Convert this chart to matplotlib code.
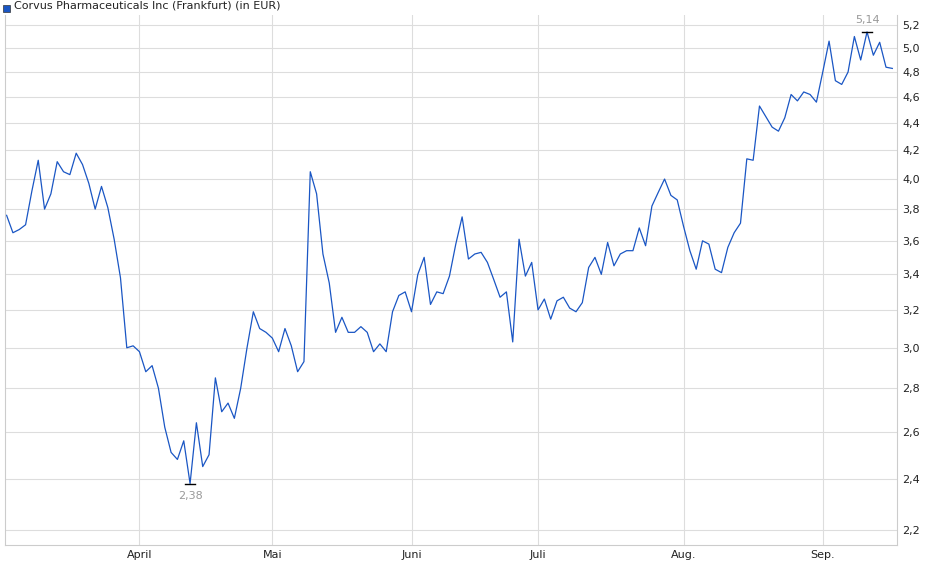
import matplotlib
matplotlib.use("Agg")
import matplotlib.pyplot as plt
import matplotlib.ticker as mticker
import numpy as np
import pandas as pd

values = [3.76,3.65,3.67,3.70,3.92,4.13,3.80,3.90,4.12,4.05,4.03,4.18,4.10,3.97,3.80,3.95,3.81,3.61,3.38,3.00,
          3.01,2.98,2.88,2.91,2.80,2.62,2.51,2.48,2.56,2.38,2.64,2.45,2.50,2.85,2.69,2.73,2.66,2.80,3.00,3.19,
          3.10,3.08,3.05,2.98,3.10,3.01,2.88,2.93,4.05,3.90,
          3.52,3.35,3.08,3.16,3.08,3.08,3.11,3.08,2.98,3.02,2.98,3.19,3.28,3.30,3.19,3.40,3.50,3.23,3.30,3.29,
          3.39,3.58,3.75,3.49,3.52,3.53,3.47,3.37,3.27,3.30,3.03,3.61,3.39,3.47,3.20,3.26,3.15,3.25,3.27,3.21,
          3.19,3.24,3.44,3.50,
          3.40,3.59,3.45,3.52,3.54,3.54,3.68,3.57,3.82,3.91,4.00,3.89,3.86,3.69,3.54,3.43,3.60,3.58,3.43,3.41,
          3.56,3.65,3.71,4.14,4.13,4.53,4.45,4.37,4.34,4.44,4.62,4.57,4.64,4.62,4.56,4.80,5.06,4.73,4.70,4.80,
          5.10,4.90,5.14,4.94,5.05,4.84,4.83]
holidays = ["2024-03-29", "2024-04-01", "2024-05-01"]
dates = pd.bdate_range("2024-02-29", periods=len(values), freq="C", holidays=holidays)
month_names = {4: "April", 5: "Mai", 6: "Juni", 7: "Juli", 8: "Aug.", 9: "Sep."}
y_ticks = [2.2, 2.4, 2.6, 2.8, 3.0, 3.2, 3.4, 3.6, 3.8, 4.0, 4.2, 4.4, 4.6, 4.8, 5.0, 5.2]
title = "Corvus Pharmaceuticals Inc (Frankfurt) (in EUR)"

x = np.arange(len(values))
mt_pos, mt_lab = [], []
for i in range(1, len(dates)):
    if dates[i].month != dates[i-1].month and dates[i].month in month_names:
        mt_pos.append(i); mt_lab.append(month_names[dates[i].month])

fig = plt.figure(figsize=(9.4, 5.79), dpi=100)
ax = fig.add_axes([0.005, 0.059, 0.949, 0.915])
ax.plot(x, values, color="#1a56c4", lw=0.9)
ax.set_yscale("log")
ax.set_ylim(2.144, 5.29)
ax.set_xlim(-0.3, len(values) - 0.3)
ax.yaxis.set_major_locator(mticker.FixedLocator(y_ticks))
ax.yaxis.set_minor_locator(mticker.NullLocator())
ax.yaxis.set_major_formatter(mticker.FixedFormatter([f"{v:.1f}".replace(".", ",") for v in y_ticks]))
ax.yaxis.tick_right()
ax.set_xticks(mt_pos)
ax.set_xticklabels(mt_lab)
ax.tick_params(length=0, labelsize=8, colors="#222222", pad=4)
ax.grid(True, color="#dddddd", lw=0.8)
ax.set_axisbelow(True)
for s in ax.spines.values():
    s.set_color("#cccccc")
ax.spines["top"].set_visible(False)

imin = int(np.argmin(values)); imax = int(np.argmax(values))
for i, va, off in [(imin, "top", -5), (imax, "bottom", 5)]:
    ax.plot([i - 0.8, i + 0.8], [values[i]] * 2, color="black", lw=1)
    ax.annotate(f"{values[i]:.2f}".replace(".", ","), (i, values[i]), xytext=(0, off),
                textcoords="offset points", ha="center", va=va, fontsize=8, color="#999999")

fig.patches.append(plt.Rectangle((3/940, 1-12/579), 7/940, 7/579, transform=fig.transFigure,
                                 facecolor="#1a56c4", edgecolor="#333333", lw=0.5))
fig.text(14/940, 1-6/579, title, fontsize=8, va="center", ha="left", color="#222222")
fig.savefig("out.png", dpi=100)
